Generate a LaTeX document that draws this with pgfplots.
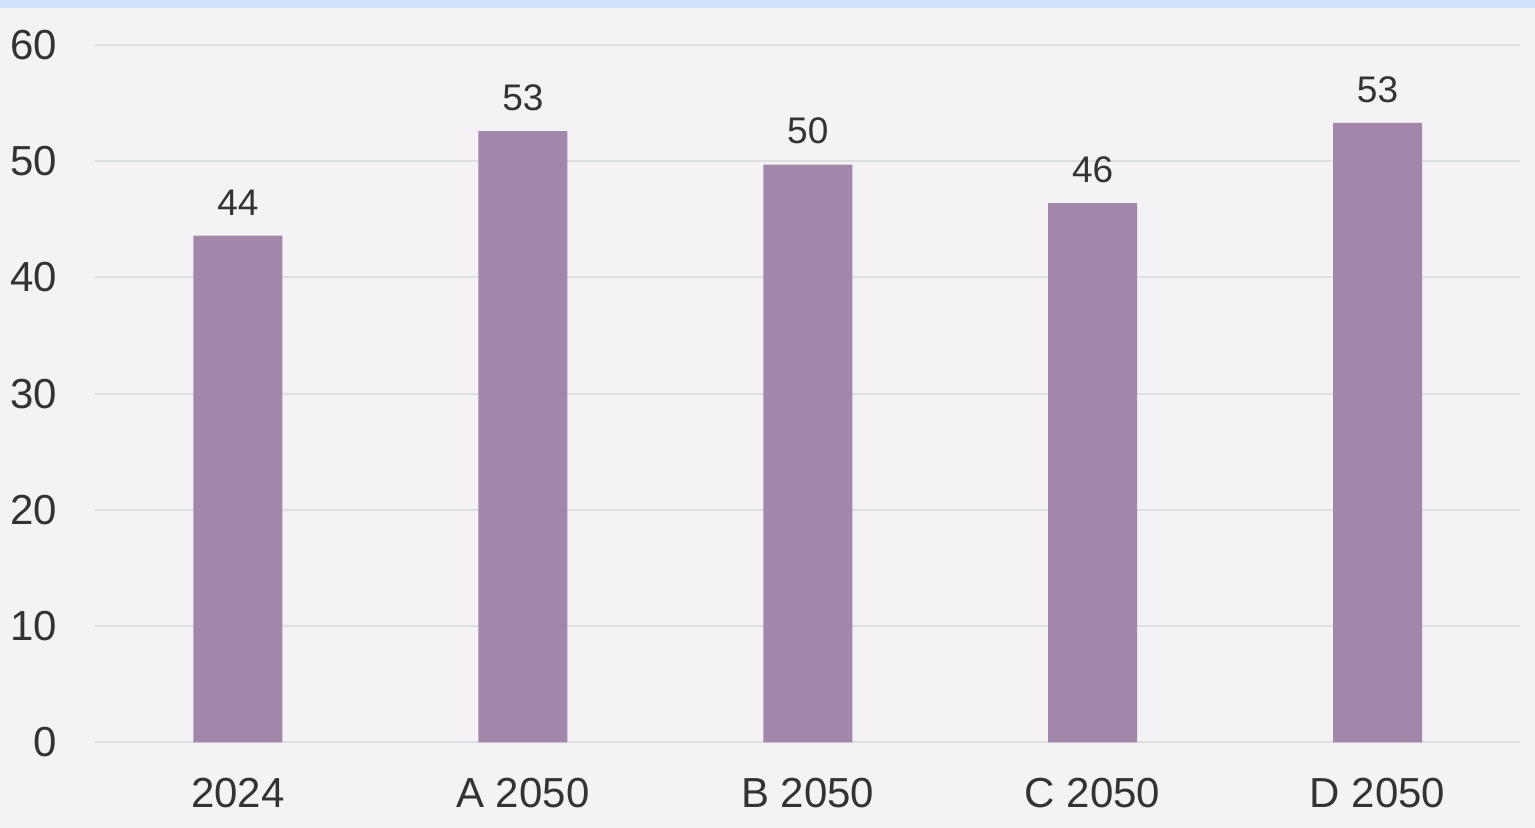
\documentclass[border=0pt]{standalone}
\usepackage{fontspec}
\setmainfont{Liberation Sans}
\usepackage{pgfplots}
\pgfplotsset{compat=1.18}

\definecolor{bgcol}{HTML}{F4F2F5}
\definecolor{topstrip}{HTML}{D0E1FB}
\definecolor{barcol}{HTML}{A387AB}
\definecolor{gridcol}{HTML}{DEDFE0}
\definecolor{txt}{HTML}{333333}

\begin{document}
\begin{tikzpicture}
  % page background, 1535x828 px at 0.5pt per px
  \fill[bgcol] (0,0) rectangle (767.5pt,414pt);
  \fill[topstrip] (0,410pt) rectangle (767.5pt,414pt);

  \begin{axis}[
    at={(47.75pt,42.75pt)}, anchor=south west,
    scale only axis,
    width=712.25pt, height=348.75pt,
    xmin=-0.5, xmax=4.5,
    ymin=0, ymax=60,
    ytick={0,10,...,60},
    xtick=data,
    xticklabels={2024, A 2050, B 2050, C 2050, D 2050},
    axis line style={draw=none},
    major tick length=0pt,
    ymajorgrids=true,
    grid style={gridcol, line width=1pt},
    /pgf/number format/assume math mode=true,
    tick label style={font=\fontsize{21}{25}\selectfont, text=txt},
    yticklabel style={anchor=east, inner sep=0pt, xshift=-19pt},
    xticklabel style={anchor=north, inner sep=0pt, yshift=-17.75pt},
    clip=false,
    ybar,
    bar width=44.5pt,
    nodes near coords={\pgfmathprintnumber[fixed,precision=0]{\pgfplotspointmeta}},
    every node near coord/.append style={font=\fontsize{18.5}{22}\selectfont, text=txt,
      anchor=south, inner sep=0pt, yshift=10pt},
  ]
    \addplot[fill=barcol, draw=none] coordinates {
      (0, 43.6)
      (1, 52.6)
      (2, 49.7)
      (3, 46.4)
      (4, 53.3)
    };
  \end{axis}
\end{tikzpicture}
\end{document}
